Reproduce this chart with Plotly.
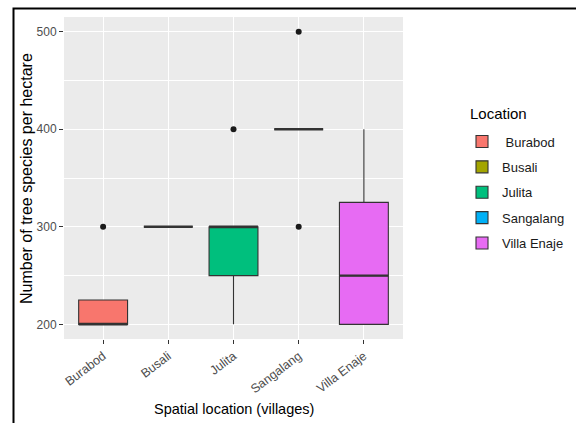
import numpy as np
import plotly.graph_objects as go

# Tree species density (species per hectare) sampled in each village
villages = ["Burabod", "Busali", "Julita", "Sangalang", "Villa Enaje"]
legend_names = [" Burabod", "Busali", "Julita", "Sangalang", "Villa Enaje"]
burabod = [200, 200, 200, 300]
busali = [300, 300, 300]
julita = [200, 250, 300, 300, 400]
sangalang = [300, 400, 400, 400, 500]
villa_enaje = [200, 200, 300, 400]
samples = [burabod, busali, julita, sangalang, villa_enaje]

fills = ["#F8766D", "#A3A500", "#00BF7D", "#00B0F6", "#E76BF3"]
y_ticks = [200, 300, 400, 500]

FONT = "Liberation Sans, Arial, sans-serif"
OUTLINE = "#333333"
BOX_W = 0.75

W, H = 576, 423
ML, MR, MT, MB = 64, 173, 17, 84
PW, PH = W - ML - MR, H - MT - MB


def tukey(vals):
    v = np.asarray(vals, dtype=float)
    q1, med, q3 = np.percentile(v, [25, 50, 75])
    iqr = q3 - q1
    lo_lim, hi_lim = q1 - 1.5 * iqr, q3 + 1.5 * iqr
    inside = v[(v >= lo_lim) & (v <= hi_lim)]
    out = v[(v < lo_lim) | (v > hi_lim)]
    return q1, med, q3, inside.min(), inside.max(), out


def px_to_paper_x(px):
    return (px - ML) / PW


def px_to_paper_y(py):
    return (H - MB - py) / PH


fig = go.Figure()

for i, (name, vals, col) in enumerate(zip(legend_names, samples, fills)):
    q1, med, q3, lo, hi, out = tukey(vals)
    fig.add_trace(go.Box(
        x=[i], q1=[q1], median=[med], q3=[q3],
        lowerfence=[lo], upperfence=[hi],
        width=BOX_W, whiskerwidth=0,
        fillcolor=col, line=dict(color=OUTLINE, width=1.1),
        name=name, legendgroup=name, boxpoints=False,
        hoverinfo="skip",
    ))
    # heavier median bar
    fig.add_trace(go.Scatter(
        x=[i - BOX_W / 2, i + BOX_W / 2], y=[med, med], mode="lines",
        line=dict(color=OUTLINE, width=2.4), showlegend=False,
        hoverinfo="skip",
    ))
    if len(out):
        fig.add_trace(go.Scatter(
            x=[i] * len(out), y=list(out), mode="markers",
            marker=dict(color="#1A1A1A", size=6), showlegend=False,
            hoverinfo="skip",
        ))

# outer frame: left and top edges
x0 = px_to_paper_x(13.5)
x1 = px_to_paper_x(W + 2)
y_top = px_to_paper_y(8.5)
y_bot = px_to_paper_y(H + 2)
fig.add_shape(
    type="path", xref="paper", yref="paper",
    path=f"M {x0} {y_bot} L {x0} {y_top} L {x1} {y_top}",
    line=dict(color="black", width=2),
)

# axis and legend titles
fig.add_annotation(
    text="Number of tree species per hectare", textangle=-90,
    xref="paper", yref="paper", x=px_to_paper_x(27), y=px_to_paper_y(179),
    xanchor="center", yanchor="middle", showarrow=False,
    font=dict(size=16, color="#000000"),
)
fig.add_annotation(
    text="Spatial location (villages)",
    xref="paper", yref="paper", x=px_to_paper_x(234), y=px_to_paper_y(409),
    xanchor="center", yanchor="middle", showarrow=False,
    font=dict(size=14.5, color="#000000"),
)
fig.add_annotation(
    text="Location",
    xref="paper", yref="paper", x=px_to_paper_x(468), y=px_to_paper_y(113),
    xanchor="left", yanchor="middle", showarrow=False,
    font=dict(size=15, color="#000000"),
)

fig.update_layout(
    width=W, height=H,
    margin=dict(l=ML, r=MR, t=MT, b=MB, pad=0, autoexpand=False),
    paper_bgcolor="white",
    plot_bgcolor="#EBEBEB",
    boxmode="overlay",
    font=dict(family=FONT, color="#000000"),
    showlegend=True,
    legend=dict(
        font=dict(size=13, color="#1A1A1A"),
        xref="container", yref="container",
        x=462 / W, xanchor="left",
        y=1 - 126.5 / H, yanchor="top",
        bgcolor="rgba(0,0,0,0)",
        tracegroupgap=5.5,
        itemwidth=30,
    ),
)

fig.update_xaxes(
    range=[-0.6, 4.6],
    tickmode="array", tickvals=list(range(len(villages))), ticktext=villages,
    tickangle=-37,
    tickfont=dict(size=12.5, color="#4D4D4D"),
    ticks="outside", ticklen=4, tickcolor="#333333", tickwidth=1,
    showgrid=True, gridcolor="white", gridwidth=1.2,
    zeroline=False, showline=False,
)

fig.update_yaxes(
    range=[185, 515],
    tickmode="array", tickvals=y_ticks,
    tickfont=dict(size=12, color="#4D4D4D"),
    ticks="outside", ticklen=4, tickcolor="#333333", tickwidth=1,
    showgrid=True, gridcolor="white", gridwidth=1.2,
    minor=dict(dtick=50, tick0=0, showgrid=True, gridcolor="white",
               gridwidth=0.6, ticks=""),
    zeroline=False, showline=False,
)

fig.write_html("out.html")
